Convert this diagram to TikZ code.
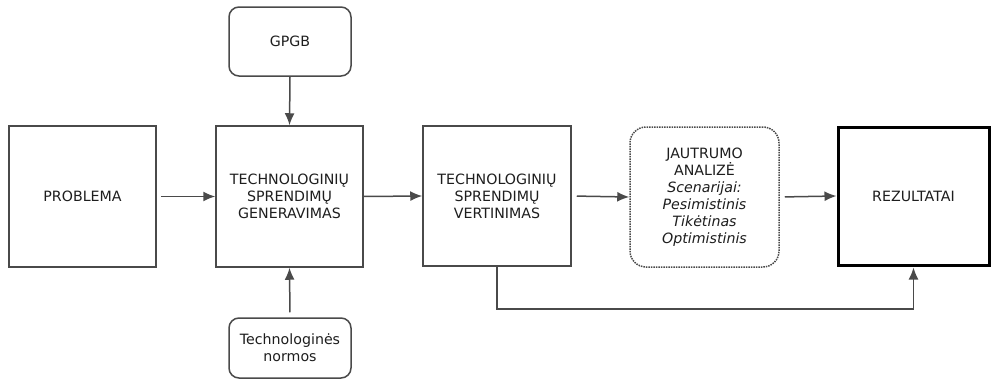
\documentclass[tikz,border=0pt]{standalone}
\usepackage{fontspec}
\setmainfont{DejaVu Sans}
\usetikzlibrary{arrows.meta}
\definecolor{linegray}{HTML}{4A4A4A}
\definecolor{textgray}{HTML}{1E1E1E}
\tikzset{
	basenode/.style = {
		align=center,
		inner sep=0pt,
		font=\fontsize{14.2}{17}\selectfont,
		text=textgray,
		draw=linegray,
		line width=1.5pt,
		fill=white
	},
	node_box/.style = {
		basenode,
		rectangle
	},
	node_round/.style = {
		basenode,
		rectangle,
		rounded corners=10pt
	},
	node_dots/.style = {
		basenode,
		rectangle,
		rounded corners=16pt,
		densely dotted
	},
	node_bold/.style = {
		basenode,
		rectangle,
		draw=black,
		line width=3pt
	},
	link/.style = {
		draw=linegray,
		line width=1.5pt,
		-{Latex[length=12pt,width=10pt]}
	}
}

\begin{document}
\begin{tikzpicture}[x=1pt, y=-1pt]
\useasboundingbox (0,0) rectangle (991,388);
% main row
\node [node_box, minimum width=147pt, minimum height=141pt] (problema) at (82.5,196.5) {PROBLEMA};
\node [node_box, minimum width=147pt, minimum height=141pt] (gen) at (289.5,196.5) {TECHNOLOGINIŲ\\SPRENDIMŲ\\GENERAVIMAS};
\node [node_box, minimum width=148pt, minimum height=140pt] (vert) at (497,196) {TECHNOLOGINIŲ\\SPRENDIMŲ\\VERTINIMAS};
\node [node_dots, minimum width=149pt, minimum height=140pt] (jautrumo) at (704.5,197) {JAUTRUMO\\ANALIZĖ\\\textit{Scenarijai:}\\\textit{Pesimistinis}\\\textit{Tikėtinas}\\\textit{Optimistinis}};
\node [node_bold, minimum width=151pt, minimum height=138pt] (rez) at (913.5,196) {REZULTATAI};
% inputs
\node [node_round, minimum width=122pt, minimum height=69pt] (gpgb) at (290,41.5) {GPGB};
\node [node_round, minimum width=122pt, minimum height=60pt] (normos) at (290,348) {Technologinės\\normos};

\draw [link, shorten <=4pt] (problema.east) -- (gen.west);
\draw [link] (gen.east) -- (vert.west);
\draw [link, shorten <=5pt] (vert.east) -- (jautrumo.west);
\draw [link, shorten <=5pt] (jautrumo.east) -- (rez.west);
\draw [link] (gpgb.south) -- (gen.north);
\draw [link, shorten <=5pt] (normos.north) -- (gen.south);
\draw [link, shorten >=1pt] (vert.south) -- ++(0,42) -| (rez.south);
\end{tikzpicture}
\end{document}
